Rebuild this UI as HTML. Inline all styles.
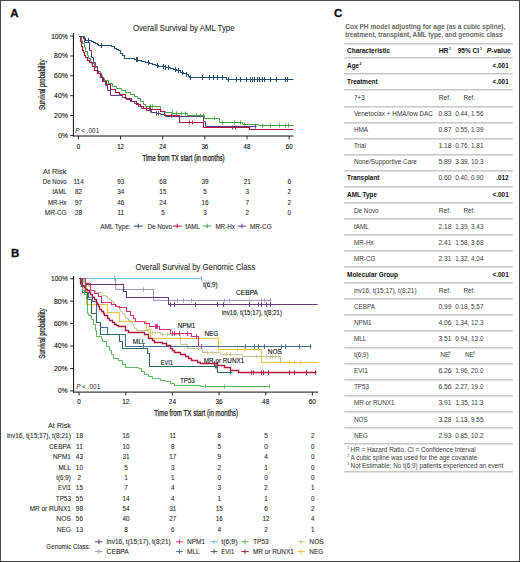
<!DOCTYPE html><html><head><meta charset="utf-8"><style>html,body{margin:0;padding:0;background:#fff;}svg{display:block;font-family:"Liberation Sans",sans-serif;}</style></head><body>
<svg width="520" height="562" viewBox="0 0 520 562">
<rect x="0" y="0" width="520" height="562" fill="#fff"/>
<text x="10.30" y="16.80" font-size="11.5" font-weight="bold" fill="#111" stroke="#111" stroke-width="0.3">A</text>
<text x="132.90" y="30.80" font-size="9.0" fill="#2a2a2a" textLength="101.60" lengthAdjust="spacingAndGlyphs" stroke="#2a2a2a" stroke-width="0.08">Overall Survival by AML Type</text>
<line x1="73.40" y1="33.00" x2="73.40" y2="136.50" stroke="#111" stroke-width="1"/>
<line x1="72.90" y1="136.00" x2="293.50" y2="136.00" stroke="#111" stroke-width="1"/>
<line x1="70.20" y1="36.10" x2="73.40" y2="36.10" stroke="#111" stroke-width="0.9"/>
<text x="51.20" y="38.50" font-size="6.6" textLength="16.70" lengthAdjust="spacingAndGlyphs" stroke="#222" stroke-width="0.08">100%</text>
<line x1="70.20" y1="55.96" x2="73.40" y2="55.96" stroke="#111" stroke-width="0.9"/>
<text x="54.10" y="58.36" font-size="6.6" textLength="13.80" lengthAdjust="spacingAndGlyphs" stroke="#222" stroke-width="0.08">80%</text>
<line x1="70.20" y1="75.82" x2="73.40" y2="75.82" stroke="#111" stroke-width="0.9"/>
<text x="54.10" y="78.22" font-size="6.6" textLength="13.80" lengthAdjust="spacingAndGlyphs" stroke="#222" stroke-width="0.08">60%</text>
<line x1="70.20" y1="95.68" x2="73.40" y2="95.68" stroke="#111" stroke-width="0.9"/>
<text x="54.10" y="98.08" font-size="6.6" textLength="13.80" lengthAdjust="spacingAndGlyphs" stroke="#222" stroke-width="0.08">40%</text>
<line x1="70.20" y1="115.54" x2="73.40" y2="115.54" stroke="#111" stroke-width="0.9"/>
<text x="54.10" y="117.94" font-size="6.6" textLength="13.80" lengthAdjust="spacingAndGlyphs" stroke="#222" stroke-width="0.08">20%</text>
<line x1="70.20" y1="135.40" x2="73.40" y2="135.40" stroke="#111" stroke-width="0.9"/>
<text x="58.30" y="137.80" font-size="6.6" textLength="9.60" lengthAdjust="spacingAndGlyphs" stroke="#222" stroke-width="0.08">0%</text>
<line x1="78.40" y1="136.00" x2="78.40" y2="139.40" stroke="#111" stroke-width="0.9"/>
<text x="76.70" y="148.70" font-size="6.8" textLength="3.40" lengthAdjust="spacingAndGlyphs" stroke="#222" stroke-width="0.08">0</text>
<line x1="120.56" y1="136.00" x2="120.56" y2="139.40" stroke="#111" stroke-width="0.9"/>
<text x="117.16" y="148.70" font-size="6.8" textLength="6.80" lengthAdjust="spacingAndGlyphs" stroke="#222" stroke-width="0.08">12</text>
<line x1="162.71" y1="136.00" x2="162.71" y2="139.40" stroke="#111" stroke-width="0.9"/>
<text x="159.31" y="148.70" font-size="6.8" textLength="6.80" lengthAdjust="spacingAndGlyphs" stroke="#222" stroke-width="0.08">24</text>
<line x1="204.87" y1="136.00" x2="204.87" y2="139.40" stroke="#111" stroke-width="0.9"/>
<text x="201.47" y="148.70" font-size="6.8" textLength="6.80" lengthAdjust="spacingAndGlyphs" stroke="#222" stroke-width="0.08">36</text>
<line x1="247.02" y1="136.00" x2="247.02" y2="139.40" stroke="#111" stroke-width="0.9"/>
<text x="243.62" y="148.70" font-size="6.8" textLength="6.80" lengthAdjust="spacingAndGlyphs" stroke="#222" stroke-width="0.08">48</text>
<line x1="289.18" y1="136.00" x2="289.18" y2="139.40" stroke="#111" stroke-width="0.9"/>
<text x="285.78" y="148.70" font-size="6.8" textLength="6.80" lengthAdjust="spacingAndGlyphs" stroke="#222" stroke-width="0.08">60</text>
<text x="142.40" y="160.50" font-size="9.0" fill="#1a1a1a" textLength="82.20" lengthAdjust="spacingAndGlyphs" stroke="#1a1a1a" stroke-width="0.25">Time from TX start (in months)</text>
<text transform="translate(44.7,84.8) rotate(-90)" text-anchor="middle" font-size="8.6" fill="#222" stroke="#222" stroke-width="0.25" textLength="50.5" lengthAdjust="spacingAndGlyphs">Survival probability</text>
<text x="75.2" y="133.2" font-size="6.6" fill="#222" textLength="24" lengthAdjust="spacingAndGlyphs"><tspan font-style="italic">P</tspan> &lt; .001</text>
<path d="M79.50,36.50H81.50V40.50H82.50V43.50H84.50V47.50H85.50V51.50H87.50V55.50H88.50V58.50H90.50V61.50H91.50V63.50H94.50V67.50H97.50V71.50H100.50V75.50H102.50V78.50H104.50V80.50H108.50V83.50H112.50V86.50H116.50V88.50H121.50V90.50H125.50V92.50H130.50V94.50H134.50V96.50H137.50V98.50H140.50V101.50H143.50V104.50H145.50V106.50H160.50V106.50H160.50V111.50H165.50V112.50H172.50V113.50H187.50V115.50H204.50V115.50H204.50V118.50H219.50V118.50H219.50V122.50H242.50V122.50H242.50V124.50H258.50V124.50H258.50V125.50H293.50V125.50" fill="none" stroke="#44a545" stroke-width="1.0"/>
<path d="M79.50,36.50H84.50V36.50H84.50V42.50H89.50V42.50H89.50V50.50H91.50V50.50H91.50V57.50H93.50V62.50H95.50V66.50H97.50V70.50H98.50V73.50H101.50V77.50H102.50V81.50H105.50V85.50H107.50V90.50H110.50V95.50H119.50V95.50H122.50V97.50H126.50V99.50H130.50V101.50H134.50V103.50H138.50V106.50H141.50V108.50H146.50V110.50H151.50V112.50H156.50V113.50H160.50V114.50H165.50V116.50H203.50V116.50H203.50V121.50H205.50V121.50H205.50V126.50H256.50V126.50" fill="none" stroke="#5a3a8a" stroke-width="1.0"/>
<path d="M79.50,36.50H80.50V41.50H81.50V46.50H82.50V50.50H83.50V52.50H84.50V55.50H85.50V57.50H87.50V60.50H89.50V62.50H92.50V66.50H94.50V70.50H97.50V73.50H100.50V77.50H103.50V81.50H106.50V84.50H110.50V89.50H115.50V92.50H119.50V94.50H125.50V98.50H131.50V101.50H136.50V104.50H140.50V106.50H143.50V108.50H150.50V109.50H160.50V111.50H164.50V115.50H179.50V117.50H179.50V122.50H203.50V122.50H203.50V127.50H249.50V127.50H249.50V129.50H293.50V129.50" fill="none" stroke="#b0163f" stroke-width="1.2"/>
<path d="M79.50,36.50H82.50V36.50H83.50V38.50H85.50V40.50H91.50V41.50H93.50V42.50H95.50V43.50H97.50V44.50H98.50V45.50H111.50V46.50H114.50V48.50H116.50V49.50H118.50V50.50H120.50V53.50H122.50V55.50H124.50V58.50H134.50V59.50H137.50V60.50H141.50V61.50H145.50V62.50H149.50V63.50H152.50V64.50H155.50V65.50H158.50V66.50H165.50V67.50H170.50V68.50H173.50V69.50H176.50V70.50H180.50V72.50H183.50V73.50H186.50V74.50H188.50V76.50H189.50V77.50H226.50V77.50H226.50V79.50H293.50V79.50" fill="none" stroke="#284d74" stroke-width="1.1"/>
<path d="M88.50,38.00V43.00M101.50,43.00V48.00M136.50,57.00V62.00M137.50,57.00V62.00M148.50,60.00V65.00M157.50,63.00V68.00M163.50,64.00V69.00M165.50,65.00V70.00M168.50,65.00V70.00M175.50,67.00V72.00M178.50,68.00V73.00M182.50,70.00V75.00M186.50,72.00V77.00M190.50,75.00V80.00M202.50,75.00V80.00M209.50,75.00V80.00M213.50,75.00V80.00M217.50,75.00V80.00M222.50,75.00V80.00M228.50,77.00V82.00M236.50,77.00V82.00M240.50,77.00V82.00M246.50,77.00V82.00M250.50,77.00V82.00M252.50,77.00V82.00M254.50,77.00V82.00M257.50,77.00V82.00M259.50,77.00V82.00M262.50,77.00V82.00M264.50,77.00V82.00M270.50,77.00V82.00M276.50,77.00V82.00M285.50,77.00V82.00M287.50,77.00V82.00" stroke="#284d74" stroke-width="1.1" fill="none"/>
<path d="M150.50,104.50V108.50M152.50,104.50V108.50M172.50,110.50V114.50M176.50,111.50V115.50M181.50,111.50V115.50M185.50,111.50V115.50M196.50,113.50V117.50M200.50,113.50V117.50M203.50,113.50V117.50M214.50,116.50V120.50M222.50,120.50V124.50M234.50,120.50V124.50M240.50,120.50V124.50M244.50,122.50V126.50M262.50,123.50V127.50M270.50,123.50V127.50M279.50,123.50V127.50M285.50,123.50V127.50M288.50,123.50V127.50" stroke="#44a545" stroke-width="0.9" fill="none"/>
<path d="M146.50,106.50V110.50M149.50,106.50V110.50M171.50,113.50V117.50M189.50,120.50V124.50M192.50,120.50V124.50M232.50,125.50V129.50M235.50,125.50V129.50" stroke="#b0163f" stroke-width="0.9" fill="none"/>
<path d="M150.50,108.30V112.70M156.50,111.30V115.70M158.50,111.30V115.70M255.50,124.30V128.70" stroke="#5a3a8a" stroke-width="0.9" fill="none"/>
<text x="43.10" y="173.80" font-size="7.4" fill="#2a2a2a" textLength="23.20" lengthAdjust="spacingAndGlyphs" stroke="#2a2a2a" stroke-width="0.08">At Risk</text>
<text x="42.80" y="183.90" font-size="6.4" fill="#2a2a2a" textLength="23.80" lengthAdjust="spacingAndGlyphs" stroke="#2a2a2a" stroke-width="0.08">De Novo</text>
<text x="78.60" y="183.90" font-size="6.4" text-anchor="middle" fill="#2a2a2a" stroke="#2a2a2a" stroke-width="0.08">114</text>
<text x="120.76" y="183.90" font-size="6.4" text-anchor="middle" fill="#2a2a2a" stroke="#2a2a2a" stroke-width="0.08">93</text>
<text x="162.91" y="183.90" font-size="6.4" text-anchor="middle" fill="#2a2a2a" stroke="#2a2a2a" stroke-width="0.08">68</text>
<text x="205.07" y="183.90" font-size="6.4" text-anchor="middle" fill="#2a2a2a" stroke="#2a2a2a" stroke-width="0.08">39</text>
<text x="247.22" y="183.90" font-size="6.4" text-anchor="middle" fill="#2a2a2a" stroke="#2a2a2a" stroke-width="0.08">21</text>
<text x="289.38" y="183.90" font-size="6.4" text-anchor="middle" fill="#2a2a2a" stroke="#2a2a2a" stroke-width="0.08">6</text>
<text x="52.40" y="194.25" font-size="6.4" fill="#2a2a2a" textLength="14.20" lengthAdjust="spacingAndGlyphs" stroke="#2a2a2a" stroke-width="0.08">tAML</text>
<text x="78.60" y="194.25" font-size="6.4" text-anchor="middle" fill="#2a2a2a" stroke="#2a2a2a" stroke-width="0.08">82</text>
<text x="120.76" y="194.25" font-size="6.4" text-anchor="middle" fill="#2a2a2a" stroke="#2a2a2a" stroke-width="0.08">34</text>
<text x="162.91" y="194.25" font-size="6.4" text-anchor="middle" fill="#2a2a2a" stroke="#2a2a2a" stroke-width="0.08">15</text>
<text x="205.07" y="194.25" font-size="6.4" text-anchor="middle" fill="#2a2a2a" stroke="#2a2a2a" stroke-width="0.08">5</text>
<text x="247.22" y="194.25" font-size="6.4" text-anchor="middle" fill="#2a2a2a" stroke="#2a2a2a" stroke-width="0.08">3</text>
<text x="289.38" y="194.25" font-size="6.4" text-anchor="middle" fill="#2a2a2a" stroke="#2a2a2a" stroke-width="0.08">2</text>
<text x="47.90" y="204.60" font-size="6.4" fill="#2a2a2a" textLength="18.70" lengthAdjust="spacingAndGlyphs" stroke="#2a2a2a" stroke-width="0.08">MR-Hx</text>
<text x="78.60" y="204.60" font-size="6.4" text-anchor="middle" fill="#2a2a2a" stroke="#2a2a2a" stroke-width="0.08">97</text>
<text x="120.76" y="204.60" font-size="6.4" text-anchor="middle" fill="#2a2a2a" stroke="#2a2a2a" stroke-width="0.08">46</text>
<text x="162.91" y="204.60" font-size="6.4" text-anchor="middle" fill="#2a2a2a" stroke="#2a2a2a" stroke-width="0.08">24</text>
<text x="205.07" y="204.60" font-size="6.4" text-anchor="middle" fill="#2a2a2a" stroke="#2a2a2a" stroke-width="0.08">16</text>
<text x="247.22" y="204.60" font-size="6.4" text-anchor="middle" fill="#2a2a2a" stroke="#2a2a2a" stroke-width="0.08">7</text>
<text x="289.38" y="204.60" font-size="6.4" text-anchor="middle" fill="#2a2a2a" stroke="#2a2a2a" stroke-width="0.08">2</text>
<text x="44.80" y="214.95" font-size="6.4" fill="#2a2a2a" textLength="21.80" lengthAdjust="spacingAndGlyphs" stroke="#2a2a2a" stroke-width="0.08">MR-CG</text>
<text x="78.60" y="214.95" font-size="6.4" text-anchor="middle" fill="#2a2a2a" stroke="#2a2a2a" stroke-width="0.08">28</text>
<text x="120.76" y="214.95" font-size="6.4" text-anchor="middle" fill="#2a2a2a" stroke="#2a2a2a" stroke-width="0.08">11</text>
<text x="162.91" y="214.95" font-size="6.4" text-anchor="middle" fill="#2a2a2a" stroke="#2a2a2a" stroke-width="0.08">5</text>
<text x="205.07" y="214.95" font-size="6.4" text-anchor="middle" fill="#2a2a2a" stroke="#2a2a2a" stroke-width="0.08">3</text>
<text x="247.22" y="214.95" font-size="6.4" text-anchor="middle" fill="#2a2a2a" stroke="#2a2a2a" stroke-width="0.08">2</text>
<text x="289.38" y="214.95" font-size="6.4" text-anchor="middle" fill="#2a2a2a" stroke="#2a2a2a" stroke-width="0.08">0</text>
<text x="100.20" y="228.70" font-size="6.4" fill="#2a2a2a" textLength="30.30" lengthAdjust="spacingAndGlyphs" stroke="#2a2a2a" stroke-width="0.08">AML Type:</text>
<path d="M133.90,226.10H142.60M138.25,223.80V228.40" stroke="#284d74" stroke-width="1" fill="none"/>
<text x="147.40" y="228.70" font-size="6.4" fill="#2a2a2a" textLength="24.60" lengthAdjust="spacingAndGlyphs" stroke="#2a2a2a" stroke-width="0.08">De Novo</text>
<path d="M172.90,226.10H181.50M177.20,223.80V228.40" stroke="#b0163f" stroke-width="1" fill="none"/>
<text x="185.50" y="228.70" font-size="6.4" fill="#2a2a2a" textLength="14.50" lengthAdjust="spacingAndGlyphs" stroke="#2a2a2a" stroke-width="0.08">tAML</text>
<path d="M203.00,226.10H211.40M207.20,223.80V228.40" stroke="#44a545" stroke-width="1" fill="none"/>
<text x="215.40" y="228.70" font-size="6.4" fill="#2a2a2a" textLength="19.40" lengthAdjust="spacingAndGlyphs" stroke="#2a2a2a" stroke-width="0.08">MR-Hx</text>
<path d="M237.80,226.10H246.00M241.90,223.80V228.40" stroke="#5a3a8a" stroke-width="1" fill="none"/>
<text x="250.00" y="228.70" font-size="6.4" fill="#2a2a2a" textLength="21.70" lengthAdjust="spacingAndGlyphs" stroke="#2a2a2a" stroke-width="0.08">MR-CG</text>
<text x="11.00" y="257.20" font-size="11.5" font-weight="bold" fill="#111" stroke="#111" stroke-width="0.3">B</text>
<text x="135.40" y="270.30" font-size="9.0" fill="#2a2a2a" textLength="120.00" lengthAdjust="spacingAndGlyphs" stroke="#2a2a2a" stroke-width="0.08">Overall Survival by Genomic Class</text>
<line x1="73.60" y1="276.00" x2="73.60" y2="392.60" stroke="#111" stroke-width="1"/>
<line x1="73.10" y1="392.10" x2="318.00" y2="392.10" stroke="#111" stroke-width="1"/>
<line x1="70.20" y1="278.80" x2="73.60" y2="278.80" stroke="#111" stroke-width="0.9"/>
<text x="51.00" y="281.20" font-size="6.6" textLength="16.70" lengthAdjust="spacingAndGlyphs" stroke="#222" stroke-width="0.08">100%</text>
<line x1="70.20" y1="301.22" x2="73.60" y2="301.22" stroke="#111" stroke-width="0.9"/>
<text x="53.90" y="303.62" font-size="6.6" textLength="13.80" lengthAdjust="spacingAndGlyphs" stroke="#222" stroke-width="0.08">80%</text>
<line x1="70.20" y1="323.64" x2="73.60" y2="323.64" stroke="#111" stroke-width="0.9"/>
<text x="53.90" y="326.04" font-size="6.6" textLength="13.80" lengthAdjust="spacingAndGlyphs" stroke="#222" stroke-width="0.08">60%</text>
<line x1="70.20" y1="346.06" x2="73.60" y2="346.06" stroke="#111" stroke-width="0.9"/>
<text x="53.90" y="348.46" font-size="6.6" textLength="13.80" lengthAdjust="spacingAndGlyphs" stroke="#222" stroke-width="0.08">40%</text>
<line x1="70.20" y1="368.48" x2="73.60" y2="368.48" stroke="#111" stroke-width="0.9"/>
<text x="53.90" y="370.88" font-size="6.6" textLength="13.80" lengthAdjust="spacingAndGlyphs" stroke="#222" stroke-width="0.08">20%</text>
<line x1="70.20" y1="390.90" x2="73.60" y2="390.90" stroke="#111" stroke-width="0.9"/>
<text x="58.10" y="393.30" font-size="6.6" textLength="9.60" lengthAdjust="spacingAndGlyphs" stroke="#222" stroke-width="0.08">0%</text>
<line x1="79.10" y1="392.10" x2="79.10" y2="395.40" stroke="#111" stroke-width="0.9"/>
<text x="77.35" y="404.20" font-size="6.8" textLength="3.50" lengthAdjust="spacingAndGlyphs" stroke="#222" stroke-width="0.08">0</text>
<line x1="125.76" y1="392.10" x2="125.76" y2="395.40" stroke="#111" stroke-width="0.9"/>
<text x="122.16" y="404.20" font-size="6.8" textLength="7.20" lengthAdjust="spacingAndGlyphs" stroke="#222" stroke-width="0.08">12</text>
<line x1="172.41" y1="392.10" x2="172.41" y2="395.40" stroke="#111" stroke-width="0.9"/>
<text x="168.81" y="404.20" font-size="6.8" textLength="7.20" lengthAdjust="spacingAndGlyphs" stroke="#222" stroke-width="0.08">24</text>
<line x1="219.07" y1="392.10" x2="219.07" y2="395.40" stroke="#111" stroke-width="0.9"/>
<text x="215.47" y="404.20" font-size="6.8" textLength="7.20" lengthAdjust="spacingAndGlyphs" stroke="#222" stroke-width="0.08">36</text>
<line x1="265.72" y1="392.10" x2="265.72" y2="395.40" stroke="#111" stroke-width="0.9"/>
<text x="262.12" y="404.20" font-size="6.8" textLength="7.20" lengthAdjust="spacingAndGlyphs" stroke="#222" stroke-width="0.08">48</text>
<line x1="312.38" y1="392.10" x2="312.38" y2="395.40" stroke="#111" stroke-width="0.9"/>
<text x="308.78" y="404.20" font-size="6.8" textLength="7.20" lengthAdjust="spacingAndGlyphs" stroke="#222" stroke-width="0.08">60</text>
<text x="154.30" y="415.60" font-size="9.0" fill="#1a1a1a" textLength="83.70" lengthAdjust="spacingAndGlyphs" stroke="#1a1a1a" stroke-width="0.25">Time from TX start (in months)</text>
<text transform="translate(44.8,333.6) rotate(-90)" text-anchor="middle" font-size="8.6" fill="#222" stroke="#222" stroke-width="0.25" textLength="50.5" lengthAdjust="spacingAndGlyphs">Survival probability</text>
<text x="76.2" y="389.0" font-size="6.6" fill="#222" textLength="24" lengthAdjust="spacingAndGlyphs"><tspan font-style="italic">P</tspan> &lt; .001</text>
<path d="M79.50,278.50H84.50V282.50H88.50V286.50H90.50V290.50H95.50V292.50H101.50V295.50H105.50V296.50H107.50V298.50H109.50V299.50H111.50V301.50H113.50V303.50H114.50V304.50H116.50V306.50H117.50V307.50H119.50V309.50H120.50V311.50H122.50V313.50H124.50V315.50H125.50V317.50H126.50V318.50H128.50V320.50H130.50V322.50H132.50V324.50H133.50V326.50H134.50V328.50H136.50V330.50H148.50V332.50H160.50V334.50H180.50V334.50H180.50V344.50H187.50V348.50H202.50V349.50H202.50V352.50H220.50V354.50H242.50V356.50H280.50V356.50H280.50V362.50H318.50V362.50" fill="none" stroke="#c3c98e" stroke-width="1.0"/>
<path d="M79.50,278.50H83.50V282.50H86.50V290.50H86.50V304.50H107.50V304.50H107.50V312.50H119.50V312.50H119.50V321.50H146.50V321.50H146.50V329.50H150.50V329.50H150.50V338.50H218.50V338.50H218.50V349.50H261.50V349.50H261.50V362.50H318.50V362.50" fill="none" stroke="#f2c23a" stroke-width="1.1"/>
<path d="M79.50,278.50H115.50V278.50H115.50V289.50H153.50V289.50H153.50V300.50H271.50V300.50" fill="none" stroke="#a497cc" stroke-width="1.0"/>
<path d="M79.50,278.50H85.50V278.50H85.50V284.50H123.50V284.50H123.50V291.50H126.50V291.50H126.50V297.50H168.50V297.50H168.50V304.50H317.50V304.50" fill="none" stroke="#6a3b7c" stroke-width="1.1"/>
<path d="M79.50,278.50H201.50V278.50" fill="none" stroke="#72bde2" stroke-width="1.1"/>
<path d="M79.50,278.50H85.50V278.50H85.50V283.50H90.50V285.50H90.50V290.50H94.50V290.50H94.50V293.50H98.50V293.50H98.50V296.50H101.50V296.50H101.50V302.50H111.50V302.50H111.50V304.50H115.50V304.50H115.50V306.50H119.50V306.50H119.50V307.50H126.50V307.50H126.50V311.50H130.50V311.50H130.50V315.50H133.50V315.50H133.50V318.50H135.50V318.50H135.50V321.50H144.50V321.50H144.50V323.50H149.50V323.50H149.50V326.50H159.50V326.50H159.50V329.50H170.50V329.50H170.50V333.50H191.50V333.50H191.50V336.50H198.50V336.50H198.50V346.50H203.50V346.50" fill="none" stroke="#d4317f" stroke-width="1.1"/>
<path d="M79.50,278.50H82.50V285.50H85.50V292.50H88.50V297.50H92.50V301.50H96.50V305.50H96.50V322.50H100.50V322.50H100.50V327.50H107.50V327.50H107.50V334.50H125.50V334.50H125.50V346.50H311.50V346.50" fill="none" stroke="#43709c" stroke-width="1.1"/>
<path d="M79.50,278.50H81.50V286.50H82.50V292.50H87.50V299.50H91.50V299.50H91.50V313.50H96.50V313.50H96.50V322.50H100.50V322.50H100.50V334.50H119.50V334.50H119.50V341.50H122.50V341.50H122.50V348.50H147.50V348.50H147.50V353.50H149.50V353.50H149.50V366.50H217.50V366.50H217.50V372.50H232.50V372.50" fill="none" stroke="#2f6b5f" stroke-width="1.1"/>
<path d="M79.50,278.50H80.50V284.50H82.50V290.50H84.50V294.50H86.50V295.50H86.50V299.50H87.50V313.50H88.50V315.50H91.50V319.50H93.50V324.50H95.50V330.50H96.50V336.50H101.50V338.50H102.50V341.50H106.50V346.50H109.50V350.50H111.50V354.50H113.50V358.50H118.50V360.50H122.50V364.50H125.50V367.50H138.50V368.50H141.50V371.50H144.50V374.50H148.50V376.50H152.50V378.50H154.50V378.50H160.50V380.50H165.50V381.50H170.50V383.50H174.50V385.50H200.50V385.50H200.50V386.50H269.50V386.50" fill="none" stroke="#5cb85a" stroke-width="1.0"/>
<path d="M79.50,278.50H80.50V283.50H82.50V286.50H84.50V287.50H85.50V289.50H87.50V290.50H89.50V292.50H90.50V294.50H92.50V297.50H94.50V299.50H96.50V302.50H97.50V304.50H98.50V306.50H99.50V309.50H101.50V311.50H103.50V313.50H104.50V315.50H107.50V318.50H109.50V320.50H112.50V322.50H114.50V324.50H116.50V325.50H118.50V326.50H122.50V326.50H125.50V330.50H128.50V332.50H141.50V332.50H144.50V334.50H148.50V338.50H152.50V340.50H154.50V342.50H162.50V343.50H166.50V345.50H170.50V348.50H172.50V350.50H174.50V352.50H180.50V354.50H185.50V356.50H188.50V358.50H191.50V360.50H197.50V362.50H200.50V363.50H217.50V363.50H217.50V365.50H224.50V367.50H230.50V370.50H238.50V372.50H316.50V372.50" fill="none" stroke="#b5173f" stroke-width="1.3"/>
<path d="M114.50,276.20V280.80M201.50,276.20V280.80" stroke="#72bde2" stroke-width="1.0" fill="none"/>
<path d="M143.50,287.30V291.70M177.50,298.30V302.70M183.50,298.30V302.70M191.50,298.30V302.70M224.50,298.30V302.70M229.50,298.30V302.70M249.50,298.30V302.70M261.50,298.30V302.70M264.50,298.30V302.70M270.50,298.30V302.70" stroke="#a497cc" stroke-width="0.9" fill="none"/>
<path d="M170.50,302.20V306.80M174.50,302.20V306.80M195.50,302.20V306.80M217.50,302.20V306.80M223.50,302.20V306.80M249.50,302.20V306.80M258.50,302.20V306.80M261.50,302.20V306.80M266.50,302.20V306.80M270.50,302.20V306.80" stroke="#6a3b7c" stroke-width="1.0" fill="none"/>
<path d="M155.50,324.20V328.80M156.50,324.20V328.80M157.50,324.20V328.80M172.50,331.20V335.80M174.50,331.20V335.80M179.50,331.20V335.80M187.50,331.20V335.80M196.50,334.20V338.80M201.50,344.20V348.80" stroke="#d4317f" stroke-width="1.0" fill="none"/>
<path d="M143.50,344.20V348.80M245.50,344.20V348.80M254.50,344.20V348.80M258.50,344.20V348.80M264.50,344.20V348.80M281.50,344.20V348.80M285.50,344.20V348.80M299.50,344.20V348.80M310.50,344.20V348.80" stroke="#43709c" stroke-width="1.0" fill="none"/>
<path d="M152.50,330.50V334.50M155.50,330.50V334.50M162.50,332.50V336.50M167.50,332.50V336.50M171.50,332.50V336.50M198.50,346.50V350.50M207.50,350.50V354.50M212.50,350.50V354.50M226.50,352.50V356.50M230.50,352.50V356.50M256.50,354.50V358.50M266.50,354.50V358.50M270.50,354.50V358.50M272.50,354.50V358.50M275.50,354.50V358.50M278.50,354.50V358.50" stroke="#c3c98e" stroke-width="0.9" fill="none"/>
<path d="M237.50,347.50V351.50M244.50,347.50V351.50M289.50,360.50V364.50M294.50,360.50V364.50M300.50,360.50V364.50" stroke="#f2c23a" stroke-width="0.9" fill="none"/>
<path d="M205.50,384.50V388.50M224.50,384.50V388.50M269.50,384.50V388.50" stroke="#5cb85a" stroke-width="0.9" fill="none"/>
<path d="M214.50,361.30V365.70M251.50,370.30V374.70M253.50,370.30V374.70M261.50,370.30V374.70M263.50,370.30V374.70M268.50,370.30V374.70M289.50,370.30V374.70M294.50,370.30V374.70M306.50,370.30V374.70M315.50,370.30V374.70" stroke="#b5173f" stroke-width="1.0" fill="none"/>
<path d="M215.50,364.50V368.50M216.50,364.50V368.50M230.50,370.50V374.50" stroke="#2f6b5f" stroke-width="0.9" fill="none"/>
<text x="203.00" y="286.60" font-size="6.4" textLength="14.70" lengthAdjust="spacingAndGlyphs" stroke="#222" stroke-width="0.08">t(6;9)</text>
<text x="236.00" y="295.20" font-size="6.4" textLength="22.00" lengthAdjust="spacingAndGlyphs" stroke="#222" stroke-width="0.08">CEBPA</text>
<text x="222.00" y="315.00" font-size="6.4" textLength="60.00" lengthAdjust="spacingAndGlyphs" stroke="#222" stroke-width="0.08">inv16, t(15;17), t(8;21)</text>
<text x="177.70" y="328.10" font-size="6.4" textLength="17.70" lengthAdjust="spacingAndGlyphs" stroke="#222" stroke-width="0.08">NPM1</text>
<text x="204.40" y="335.60" font-size="6.4" textLength="13.90" lengthAdjust="spacingAndGlyphs" stroke="#222" stroke-width="0.08">NEG</text>
<text x="132.80" y="343.80" font-size="6.4" textLength="12.70" lengthAdjust="spacingAndGlyphs" stroke="#222" stroke-width="0.08">MLL</text>
<text x="267.80" y="354.10" font-size="6.4" textLength="14.20" lengthAdjust="spacingAndGlyphs" stroke="#222" stroke-width="0.08">NOS</text>
<text x="160.80" y="365.00" font-size="6.4" textLength="12.20" lengthAdjust="spacingAndGlyphs" stroke="#222" stroke-width="0.08">EVI1</text>
<text x="203.80" y="363.10" font-size="6.4" textLength="40.40" lengthAdjust="spacingAndGlyphs" stroke="#222" stroke-width="0.08">MR or RUNX1</text>
<text x="180.00" y="382.90" font-size="6.4" textLength="14.80" lengthAdjust="spacingAndGlyphs" stroke="#222" stroke-width="0.08">TP53</text>
<text x="47.90" y="427.90" font-size="7.4" fill="#2a2a2a" textLength="23.00" lengthAdjust="spacingAndGlyphs" stroke="#2a2a2a" stroke-width="0.08">At Risk</text>
<text x="6.90" y="438.40" font-size="6.4" fill="#2a2a2a" textLength="64.00" lengthAdjust="spacingAndGlyphs" stroke="#2a2a2a" stroke-width="0.08">inv16, t(15;17), t(8;21)</text>
<text x="79.40" y="438.40" font-size="6.4" text-anchor="middle" fill="#2a2a2a" stroke="#2a2a2a" stroke-width="0.08">18</text>
<text x="126.06" y="438.40" font-size="6.4" text-anchor="middle" fill="#2a2a2a" stroke="#2a2a2a" stroke-width="0.08">16</text>
<text x="172.71" y="438.40" font-size="6.4" text-anchor="middle" fill="#2a2a2a" stroke="#2a2a2a" stroke-width="0.08">11</text>
<text x="219.37" y="438.40" font-size="6.4" text-anchor="middle" fill="#2a2a2a" stroke="#2a2a2a" stroke-width="0.08">8</text>
<text x="266.02" y="438.40" font-size="6.4" text-anchor="middle" fill="#2a2a2a" stroke="#2a2a2a" stroke-width="0.08">5</text>
<text x="312.68" y="438.40" font-size="6.4" text-anchor="middle" fill="#2a2a2a" stroke="#2a2a2a" stroke-width="0.08">2</text>
<text x="49.00" y="448.78" font-size="6.4" fill="#2a2a2a" textLength="21.90" lengthAdjust="spacingAndGlyphs" stroke="#2a2a2a" stroke-width="0.08">CEBPA</text>
<text x="79.40" y="448.78" font-size="6.4" text-anchor="middle" fill="#2a2a2a" stroke="#2a2a2a" stroke-width="0.08">11</text>
<text x="126.06" y="448.78" font-size="6.4" text-anchor="middle" fill="#2a2a2a" stroke="#2a2a2a" stroke-width="0.08">10</text>
<text x="172.71" y="448.78" font-size="6.4" text-anchor="middle" fill="#2a2a2a" stroke="#2a2a2a" stroke-width="0.08">8</text>
<text x="219.37" y="448.78" font-size="6.4" text-anchor="middle" fill="#2a2a2a" stroke="#2a2a2a" stroke-width="0.08">5</text>
<text x="266.02" y="448.78" font-size="6.4" text-anchor="middle" fill="#2a2a2a" stroke="#2a2a2a" stroke-width="0.08">0</text>
<text x="312.68" y="448.78" font-size="6.4" text-anchor="middle" fill="#2a2a2a" stroke="#2a2a2a" stroke-width="0.08">0</text>
<text x="52.90" y="459.16" font-size="6.4" fill="#2a2a2a" textLength="18.00" lengthAdjust="spacingAndGlyphs" stroke="#2a2a2a" stroke-width="0.08">NPM1</text>
<text x="79.40" y="459.16" font-size="6.4" text-anchor="middle" fill="#2a2a2a" stroke="#2a2a2a" stroke-width="0.08">43</text>
<text x="126.06" y="459.16" font-size="6.4" text-anchor="middle" fill="#2a2a2a" stroke="#2a2a2a" stroke-width="0.08">31</text>
<text x="172.71" y="459.16" font-size="6.4" text-anchor="middle" fill="#2a2a2a" stroke="#2a2a2a" stroke-width="0.08">17</text>
<text x="219.37" y="459.16" font-size="6.4" text-anchor="middle" fill="#2a2a2a" stroke="#2a2a2a" stroke-width="0.08">9</text>
<text x="266.02" y="459.16" font-size="6.4" text-anchor="middle" fill="#2a2a2a" stroke="#2a2a2a" stroke-width="0.08">4</text>
<text x="312.68" y="459.16" font-size="6.4" text-anchor="middle" fill="#2a2a2a" stroke="#2a2a2a" stroke-width="0.08">0</text>
<text x="58.50" y="469.54" font-size="6.4" fill="#2a2a2a" textLength="12.40" lengthAdjust="spacingAndGlyphs" stroke="#2a2a2a" stroke-width="0.08">MLL</text>
<text x="79.40" y="469.54" font-size="6.4" text-anchor="middle" fill="#2a2a2a" stroke="#2a2a2a" stroke-width="0.08">10</text>
<text x="126.06" y="469.54" font-size="6.4" text-anchor="middle" fill="#2a2a2a" stroke="#2a2a2a" stroke-width="0.08">5</text>
<text x="172.71" y="469.54" font-size="6.4" text-anchor="middle" fill="#2a2a2a" stroke="#2a2a2a" stroke-width="0.08">3</text>
<text x="219.37" y="469.54" font-size="6.4" text-anchor="middle" fill="#2a2a2a" stroke="#2a2a2a" stroke-width="0.08">2</text>
<text x="266.02" y="469.54" font-size="6.4" text-anchor="middle" fill="#2a2a2a" stroke="#2a2a2a" stroke-width="0.08">1</text>
<text x="312.68" y="469.54" font-size="6.4" text-anchor="middle" fill="#2a2a2a" stroke="#2a2a2a" stroke-width="0.08">0</text>
<text x="56.30" y="479.92" font-size="6.4" fill="#2a2a2a" textLength="14.60" lengthAdjust="spacingAndGlyphs" stroke="#2a2a2a" stroke-width="0.08">t(6;9)</text>
<text x="79.40" y="479.92" font-size="6.4" text-anchor="middle" fill="#2a2a2a" stroke="#2a2a2a" stroke-width="0.08">2</text>
<text x="126.06" y="479.92" font-size="6.4" text-anchor="middle" fill="#2a2a2a" stroke="#2a2a2a" stroke-width="0.08">1</text>
<text x="172.71" y="479.92" font-size="6.4" text-anchor="middle" fill="#2a2a2a" stroke="#2a2a2a" stroke-width="0.08">1</text>
<text x="219.37" y="479.92" font-size="6.4" text-anchor="middle" fill="#2a2a2a" stroke="#2a2a2a" stroke-width="0.08">0</text>
<text x="266.02" y="479.92" font-size="6.4" text-anchor="middle" fill="#2a2a2a" stroke="#2a2a2a" stroke-width="0.08">0</text>
<text x="312.68" y="479.92" font-size="6.4" text-anchor="middle" fill="#2a2a2a" stroke="#2a2a2a" stroke-width="0.08">0</text>
<text x="58.00" y="490.30" font-size="6.4" fill="#2a2a2a" textLength="12.90" lengthAdjust="spacingAndGlyphs" stroke="#2a2a2a" stroke-width="0.08">EVI1</text>
<text x="79.40" y="490.30" font-size="6.4" text-anchor="middle" fill="#2a2a2a" stroke="#2a2a2a" stroke-width="0.08">15</text>
<text x="126.06" y="490.30" font-size="6.4" text-anchor="middle" fill="#2a2a2a" stroke="#2a2a2a" stroke-width="0.08">7</text>
<text x="172.71" y="490.30" font-size="6.4" text-anchor="middle" fill="#2a2a2a" stroke="#2a2a2a" stroke-width="0.08">4</text>
<text x="219.37" y="490.30" font-size="6.4" text-anchor="middle" fill="#2a2a2a" stroke="#2a2a2a" stroke-width="0.08">3</text>
<text x="266.02" y="490.30" font-size="6.4" text-anchor="middle" fill="#2a2a2a" stroke="#2a2a2a" stroke-width="0.08">2</text>
<text x="312.68" y="490.30" font-size="6.4" text-anchor="middle" fill="#2a2a2a" stroke="#2a2a2a" stroke-width="0.08">1</text>
<text x="55.80" y="500.68" font-size="6.4" fill="#2a2a2a" textLength="15.10" lengthAdjust="spacingAndGlyphs" stroke="#2a2a2a" stroke-width="0.08">TP53</text>
<text x="79.40" y="500.68" font-size="6.4" text-anchor="middle" fill="#2a2a2a" stroke="#2a2a2a" stroke-width="0.08">55</text>
<text x="126.06" y="500.68" font-size="6.4" text-anchor="middle" fill="#2a2a2a" stroke="#2a2a2a" stroke-width="0.08">14</text>
<text x="172.71" y="500.68" font-size="6.4" text-anchor="middle" fill="#2a2a2a" stroke="#2a2a2a" stroke-width="0.08">4</text>
<text x="219.37" y="500.68" font-size="6.4" text-anchor="middle" fill="#2a2a2a" stroke="#2a2a2a" stroke-width="0.08">1</text>
<text x="266.02" y="500.68" font-size="6.4" text-anchor="middle" fill="#2a2a2a" stroke="#2a2a2a" stroke-width="0.08">1</text>
<text x="312.68" y="500.68" font-size="6.4" text-anchor="middle" fill="#2a2a2a" stroke="#2a2a2a" stroke-width="0.08">0</text>
<text x="29.70" y="511.06" font-size="6.4" fill="#2a2a2a" textLength="41.20" lengthAdjust="spacingAndGlyphs" stroke="#2a2a2a" stroke-width="0.08">MR or RUNX1</text>
<text x="79.40" y="511.06" font-size="6.4" text-anchor="middle" fill="#2a2a2a" stroke="#2a2a2a" stroke-width="0.08">98</text>
<text x="126.06" y="511.06" font-size="6.4" text-anchor="middle" fill="#2a2a2a" stroke="#2a2a2a" stroke-width="0.08">54</text>
<text x="172.71" y="511.06" font-size="6.4" text-anchor="middle" fill="#2a2a2a" stroke="#2a2a2a" stroke-width="0.08">31</text>
<text x="219.37" y="511.06" font-size="6.4" text-anchor="middle" fill="#2a2a2a" stroke="#2a2a2a" stroke-width="0.08">15</text>
<text x="266.02" y="511.06" font-size="6.4" text-anchor="middle" fill="#2a2a2a" stroke="#2a2a2a" stroke-width="0.08">6</text>
<text x="312.68" y="511.06" font-size="6.4" text-anchor="middle" fill="#2a2a2a" stroke="#2a2a2a" stroke-width="0.08">2</text>
<text x="56.30" y="521.44" font-size="6.4" fill="#2a2a2a" textLength="14.60" lengthAdjust="spacingAndGlyphs" stroke="#2a2a2a" stroke-width="0.08">NOS</text>
<text x="79.40" y="521.44" font-size="6.4" text-anchor="middle" fill="#2a2a2a" stroke="#2a2a2a" stroke-width="0.08">56</text>
<text x="126.06" y="521.44" font-size="6.4" text-anchor="middle" fill="#2a2a2a" stroke="#2a2a2a" stroke-width="0.08">40</text>
<text x="172.71" y="521.44" font-size="6.4" text-anchor="middle" fill="#2a2a2a" stroke="#2a2a2a" stroke-width="0.08">27</text>
<text x="219.37" y="521.44" font-size="6.4" text-anchor="middle" fill="#2a2a2a" stroke="#2a2a2a" stroke-width="0.08">16</text>
<text x="266.02" y="521.44" font-size="6.4" text-anchor="middle" fill="#2a2a2a" stroke="#2a2a2a" stroke-width="0.08">12</text>
<text x="312.68" y="521.44" font-size="6.4" text-anchor="middle" fill="#2a2a2a" stroke="#2a2a2a" stroke-width="0.08">4</text>
<text x="56.80" y="531.82" font-size="6.4" fill="#2a2a2a" textLength="14.10" lengthAdjust="spacingAndGlyphs" stroke="#2a2a2a" stroke-width="0.08">NEG</text>
<text x="79.40" y="531.82" font-size="6.4" text-anchor="middle" fill="#2a2a2a" stroke="#2a2a2a" stroke-width="0.08">13</text>
<text x="126.06" y="531.82" font-size="6.4" text-anchor="middle" fill="#2a2a2a" stroke="#2a2a2a" stroke-width="0.08">8</text>
<text x="172.71" y="531.82" font-size="6.4" text-anchor="middle" fill="#2a2a2a" stroke="#2a2a2a" stroke-width="0.08">6</text>
<text x="219.37" y="531.82" font-size="6.4" text-anchor="middle" fill="#2a2a2a" stroke="#2a2a2a" stroke-width="0.08">4</text>
<text x="266.02" y="531.82" font-size="6.4" text-anchor="middle" fill="#2a2a2a" stroke="#2a2a2a" stroke-width="0.08">2</text>
<text x="312.68" y="531.82" font-size="6.4" text-anchor="middle" fill="#2a2a2a" stroke="#2a2a2a" stroke-width="0.08">1</text>
<text x="46.30" y="549.40" font-size="6.4" fill="#2a2a2a" textLength="44.20" lengthAdjust="spacingAndGlyphs" stroke="#2a2a2a" stroke-width="0.08">Genomic Class:</text>
<path d="M95.00,541.80H102.70M98.85,539.50V544.10" stroke="#6a3b7c" stroke-width="1" fill="none"/>
<text x="106.60" y="544.20" font-size="6.4" fill="#2a2a2a" textLength="64.20" lengthAdjust="spacingAndGlyphs" stroke="#2a2a2a" stroke-width="0.08">inv16, t(15;17), t(8;21)</text>
<path d="M95.00,551.60H102.70M98.85,549.30V553.90" stroke="#a497cc" stroke-width="1" fill="none"/>
<text x="106.60" y="554.00" font-size="6.4" fill="#2a2a2a" textLength="22.20" lengthAdjust="spacingAndGlyphs" stroke="#2a2a2a" stroke-width="0.08">CEBPA</text>
<path d="M176.00,541.80H182.80M179.40,539.50V544.10" stroke="#d4317f" stroke-width="1" fill="none"/>
<text x="187.00" y="544.20" font-size="6.4" fill="#2a2a2a" textLength="18.00" lengthAdjust="spacingAndGlyphs" stroke="#2a2a2a" stroke-width="0.08">NPM1</text>
<path d="M176.00,551.60H182.80M179.40,549.30V553.90" stroke="#43709c" stroke-width="1" fill="none"/>
<text x="187.00" y="554.00" font-size="6.4" fill="#2a2a2a" textLength="12.70" lengthAdjust="spacingAndGlyphs" stroke="#2a2a2a" stroke-width="0.08">MLL</text>
<path d="M210.50,541.80H217.50M214.00,539.50V544.10" stroke="#72bde2" stroke-width="1" fill="none"/>
<text x="221.30" y="544.20" font-size="6.4" fill="#2a2a2a" textLength="16.20" lengthAdjust="spacingAndGlyphs" stroke="#2a2a2a" stroke-width="0.08">t(6;9)</text>
<path d="M210.50,551.60H217.50M214.00,549.30V553.90" stroke="#2f6b5f" stroke-width="1" fill="none"/>
<text x="221.30" y="554.00" font-size="6.4" fill="#2a2a2a" textLength="13.00" lengthAdjust="spacingAndGlyphs" stroke="#2a2a2a" stroke-width="0.08">EVI1</text>
<path d="M241.30,541.80H248.80M245.05,539.50V544.10" stroke="#5cb85a" stroke-width="1" fill="none"/>
<text x="253.00" y="544.20" font-size="6.4" fill="#2a2a2a" textLength="15.80" lengthAdjust="spacingAndGlyphs" stroke="#2a2a2a" stroke-width="0.08">TP53</text>
<path d="M241.30,551.60H248.80M245.05,549.30V553.90" stroke="#b5173f" stroke-width="1" fill="none"/>
<text x="253.00" y="554.00" font-size="6.4" fill="#2a2a2a" textLength="40.80" lengthAdjust="spacingAndGlyphs" stroke="#2a2a2a" stroke-width="0.08">MR or RUNX1</text>
<path d="M297.50,541.80H304.50M301.00,539.50V544.10" stroke="#c3c98e" stroke-width="1" fill="none"/>
<text x="309.30" y="544.20" font-size="6.4" fill="#2a2a2a" textLength="14.50" lengthAdjust="spacingAndGlyphs" stroke="#2a2a2a" stroke-width="0.08">NOS</text>
<path d="M297.50,551.60H304.50M301.00,549.30V553.90" stroke="#f2c23a" stroke-width="1" fill="none"/>
<text x="309.30" y="554.00" font-size="6.4" fill="#2a2a2a" textLength="14.00" lengthAdjust="spacingAndGlyphs" stroke="#2a2a2a" stroke-width="0.08">NEG</text>
<text x="334.00" y="16.90" font-size="11.5" font-weight="bold" fill="#111" stroke="#111" stroke-width="0.3">C</text>
<text x="345.20" y="28.70" font-size="6.5" font-weight="bold" fill="#666666" textLength="160.20" lengthAdjust="spacingAndGlyphs">Cox PH model adjusting for age (as a cubic spline),</text>
<text x="345.20" y="36.50" font-size="6.5" font-weight="bold" fill="#666666" textLength="157.40" lengthAdjust="spacingAndGlyphs">treatment, transplant, AML type, and genomic class</text>
<line x1="344.30" y1="43.50" x2="512.80" y2="43.50" stroke="#c8c8c8" stroke-width="1.0"/>
<line x1="344.30" y1="44.50" x2="512.80" y2="44.50" stroke="#e2e2e2" stroke-width="1.0"/>
<line x1="344.30" y1="57.50" x2="512.80" y2="57.50" stroke="#c8c8c8" stroke-width="1.0"/>
<line x1="344.30" y1="58.50" x2="512.80" y2="58.50" stroke="#e2e2e2" stroke-width="1.0"/>
<line x1="344.30" y1="73.50" x2="512.80" y2="73.50" stroke="#c8c8c8" stroke-width="1.0"/>
<line x1="344.30" y1="74.50" x2="512.80" y2="74.50" stroke="#e2e2e2" stroke-width="1.0"/>
<line x1="344.30" y1="89.50" x2="512.80" y2="89.50" stroke="#c8c8c8" stroke-width="1.0"/>
<line x1="344.30" y1="90.50" x2="512.80" y2="90.50" stroke="#e2e2e2" stroke-width="1.0"/>
<line x1="344.30" y1="106.50" x2="512.80" y2="106.50" stroke="#c8c8c8" stroke-width="1.0"/>
<line x1="344.30" y1="107.50" x2="512.80" y2="107.50" stroke="#e2e2e2" stroke-width="1.0"/>
<line x1="344.30" y1="122.50" x2="512.80" y2="122.50" stroke="#c8c8c8" stroke-width="1.0"/>
<line x1="344.30" y1="123.50" x2="512.80" y2="123.50" stroke="#e2e2e2" stroke-width="1.0"/>
<line x1="344.30" y1="138.50" x2="512.80" y2="138.50" stroke="#c8c8c8" stroke-width="1.0"/>
<line x1="344.30" y1="139.50" x2="512.80" y2="139.50" stroke="#e2e2e2" stroke-width="1.0"/>
<line x1="344.30" y1="154.50" x2="512.80" y2="154.50" stroke="#c8c8c8" stroke-width="1.0"/>
<line x1="344.30" y1="155.50" x2="512.80" y2="155.50" stroke="#e2e2e2" stroke-width="1.0"/>
<line x1="344.30" y1="170.50" x2="512.80" y2="170.50" stroke="#c8c8c8" stroke-width="1.0"/>
<line x1="344.30" y1="171.50" x2="512.80" y2="171.50" stroke="#e2e2e2" stroke-width="1.0"/>
<line x1="344.30" y1="186.50" x2="512.80" y2="186.50" stroke="#c8c8c8" stroke-width="1.0"/>
<line x1="344.30" y1="187.50" x2="512.80" y2="187.50" stroke="#e2e2e2" stroke-width="1.0"/>
<line x1="344.30" y1="202.50" x2="512.80" y2="202.50" stroke="#c8c8c8" stroke-width="1.0"/>
<line x1="344.30" y1="203.50" x2="512.80" y2="203.50" stroke="#e2e2e2" stroke-width="1.0"/>
<line x1="344.30" y1="218.50" x2="512.80" y2="218.50" stroke="#c8c8c8" stroke-width="1.0"/>
<line x1="344.30" y1="219.50" x2="512.80" y2="219.50" stroke="#e2e2e2" stroke-width="1.0"/>
<line x1="344.30" y1="234.50" x2="512.80" y2="234.50" stroke="#c8c8c8" stroke-width="1.0"/>
<line x1="344.30" y1="235.50" x2="512.80" y2="235.50" stroke="#e2e2e2" stroke-width="1.0"/>
<line x1="344.30" y1="250.50" x2="512.80" y2="250.50" stroke="#c8c8c8" stroke-width="1.0"/>
<line x1="344.30" y1="251.50" x2="512.80" y2="251.50" stroke="#e2e2e2" stroke-width="1.0"/>
<line x1="344.30" y1="266.50" x2="512.80" y2="266.50" stroke="#c8c8c8" stroke-width="1.0"/>
<line x1="344.30" y1="267.50" x2="512.80" y2="267.50" stroke="#e2e2e2" stroke-width="1.0"/>
<line x1="344.30" y1="282.50" x2="512.80" y2="282.50" stroke="#c8c8c8" stroke-width="1.0"/>
<line x1="344.30" y1="283.50" x2="512.80" y2="283.50" stroke="#e2e2e2" stroke-width="1.0"/>
<line x1="344.30" y1="298.50" x2="512.80" y2="298.50" stroke="#c8c8c8" stroke-width="1.0"/>
<line x1="344.30" y1="299.50" x2="512.80" y2="299.50" stroke="#e2e2e2" stroke-width="1.0"/>
<line x1="344.30" y1="314.50" x2="512.80" y2="314.50" stroke="#c8c8c8" stroke-width="1.0"/>
<line x1="344.30" y1="315.50" x2="512.80" y2="315.50" stroke="#e2e2e2" stroke-width="1.0"/>
<line x1="344.30" y1="330.50" x2="512.80" y2="330.50" stroke="#c8c8c8" stroke-width="1.0"/>
<line x1="344.30" y1="331.50" x2="512.80" y2="331.50" stroke="#e2e2e2" stroke-width="1.0"/>
<line x1="344.30" y1="347.50" x2="512.80" y2="347.50" stroke="#c8c8c8" stroke-width="1.0"/>
<line x1="344.30" y1="348.50" x2="512.80" y2="348.50" stroke="#e2e2e2" stroke-width="1.0"/>
<line x1="344.30" y1="363.50" x2="512.80" y2="363.50" stroke="#c8c8c8" stroke-width="1.0"/>
<line x1="344.30" y1="364.50" x2="512.80" y2="364.50" stroke="#e2e2e2" stroke-width="1.0"/>
<line x1="344.30" y1="379.50" x2="512.80" y2="379.50" stroke="#c8c8c8" stroke-width="1.0"/>
<line x1="344.30" y1="380.50" x2="512.80" y2="380.50" stroke="#e2e2e2" stroke-width="1.0"/>
<line x1="344.30" y1="395.50" x2="512.80" y2="395.50" stroke="#c8c8c8" stroke-width="1.0"/>
<line x1="344.30" y1="396.50" x2="512.80" y2="396.50" stroke="#e2e2e2" stroke-width="1.0"/>
<line x1="344.30" y1="411.50" x2="512.80" y2="411.50" stroke="#c8c8c8" stroke-width="1.0"/>
<line x1="344.30" y1="412.50" x2="512.80" y2="412.50" stroke="#e2e2e2" stroke-width="1.0"/>
<line x1="344.30" y1="427.50" x2="512.80" y2="427.50" stroke="#c8c8c8" stroke-width="1.0"/>
<line x1="344.30" y1="428.50" x2="512.80" y2="428.50" stroke="#e2e2e2" stroke-width="1.0"/>
<line x1="344.30" y1="443.50" x2="512.80" y2="443.50" stroke="#c8c8c8" stroke-width="1.0"/>
<line x1="344.30" y1="444.50" x2="512.80" y2="444.50" stroke="#e2e2e2" stroke-width="1.0"/>
<line x1="344.30" y1="471.50" x2="512.80" y2="471.50" stroke="#c8c8c8" stroke-width="1.0"/>
<line x1="344.30" y1="472.50" x2="512.80" y2="472.50" stroke="#e2e2e2" stroke-width="1.0"/>
<text x="347.00" y="52.90" font-size="6.5" font-weight="bold" fill="#111" textLength="43.20" lengthAdjust="spacingAndGlyphs">Characteristic</text>
<text x="438.70" y="52.90" font-size="6.5" font-weight="bold" fill="#111" textLength="9.80" lengthAdjust="spacingAndGlyphs">HR</text>
<text x="449.10" y="50.30" font-size="3.6" font-weight="bold" fill="#111">1</text>
<text x="457.70" y="52.90" font-size="6.5" font-weight="bold" fill="#111" textLength="21.30" lengthAdjust="spacingAndGlyphs">95% CI</text>
<text x="479.90" y="50.30" font-size="3.6" font-weight="bold" fill="#111">1</text>
<text x="486.8" y="52.90" font-size="6.5" font-weight="bold" fill="#111" textLength="24.1" lengthAdjust="spacingAndGlyphs"><tspan font-style="italic">P</tspan>-value</text>
<text x="347.10" y="68.00" font-size="6.4" font-weight="bold" fill="#111">Age</text>
<text x="359.60" y="65.00" font-size="3.6" font-weight="bold" fill="#111">2</text>
<text x="508.70" y="68.00" font-size="6.4" text-anchor="end" font-weight="bold" fill="#111">&lt;.001</text>
<text x="347.10" y="84.07" font-size="6.4" font-weight="bold" fill="#111">Treatment</text>
<text x="508.70" y="84.07" font-size="6.4" text-anchor="end" font-weight="bold" fill="#111">&lt;.001</text>
<text x="353.90" y="100.14" font-size="6.7" fill="#3a3a3a" textLength="10.80" lengthAdjust="spacingAndGlyphs">7+3</text>
<text x="438.76" y="100.14" font-size="6.7" fill="#3a3a3a" textLength="12.29" lengthAdjust="spacingAndGlyphs">Ref.</text>
<text x="463.46" y="100.14" font-size="6.7" fill="#3a3a3a" textLength="11.67" lengthAdjust="spacingAndGlyphs">Ref.</text>
<text x="353.90" y="116.21" font-size="6.7" fill="#3a3a3a" textLength="79.06" lengthAdjust="spacingAndGlyphs">Venetoclax + HMA/low DAC</text>
<text x="438.38" y="116.21" font-size="6.7" fill="#3a3a3a" textLength="13.04" lengthAdjust="spacingAndGlyphs">0.83</text>
<text x="455.14" y="116.21" font-size="6.7" fill="#3a3a3a" textLength="28.31" lengthAdjust="spacingAndGlyphs">0.44, 1.56</text>
<text x="353.90" y="132.28" font-size="6.7" fill="#3a3a3a" textLength="14.14" lengthAdjust="spacingAndGlyphs">HMA</text>
<text x="438.38" y="132.28" font-size="6.7" fill="#3a3a3a" textLength="13.04" lengthAdjust="spacingAndGlyphs">0.87</text>
<text x="455.14" y="132.28" font-size="6.7" fill="#3a3a3a" textLength="28.31" lengthAdjust="spacingAndGlyphs">0.55, 1.39</text>
<text x="353.90" y="148.35" font-size="6.7" fill="#3a3a3a" textLength="12.14" lengthAdjust="spacingAndGlyphs">Trial</text>
<text x="438.38" y="148.35" font-size="6.7" fill="#3a3a3a" textLength="13.04" lengthAdjust="spacingAndGlyphs">1.18</text>
<text x="455.14" y="148.35" font-size="6.7" fill="#3a3a3a" textLength="28.31" lengthAdjust="spacingAndGlyphs">0.76, 1.81</text>
<text x="353.90" y="164.42" font-size="6.7" fill="#3a3a3a" textLength="62.97" lengthAdjust="spacingAndGlyphs">None/Supportive Care</text>
<text x="438.38" y="164.42" font-size="6.7" fill="#3a3a3a" textLength="13.04" lengthAdjust="spacingAndGlyphs">5.89</text>
<text x="455.14" y="164.42" font-size="6.7" fill="#3a3a3a" textLength="28.31" lengthAdjust="spacingAndGlyphs">3.39, 10.3</text>
<text x="347.10" y="180.49" font-size="6.4" font-weight="bold" fill="#111">Transplant</text>
<text x="438.38" y="180.49" font-size="6.7" fill="#3a3a3a" textLength="13.04" lengthAdjust="spacingAndGlyphs">0.60</text>
<text x="455.14" y="180.49" font-size="6.7" fill="#3a3a3a" textLength="28.31" lengthAdjust="spacingAndGlyphs">0.40, 0.90</text>
<text x="508.70" y="180.49" font-size="6.4" text-anchor="end" font-weight="bold" fill="#111">.012</text>
<text x="347.10" y="196.56" font-size="6.4" font-weight="bold" fill="#111">AML Type</text>
<text x="508.70" y="196.56" font-size="6.4" text-anchor="end" font-weight="bold" fill="#111">&lt;.001</text>
<text x="353.90" y="212.63" font-size="6.7" fill="#3a3a3a" textLength="24.76" lengthAdjust="spacingAndGlyphs">De Novo</text>
<text x="438.76" y="212.63" font-size="6.7" fill="#3a3a3a" textLength="12.29" lengthAdjust="spacingAndGlyphs">Ref.</text>
<text x="463.46" y="212.63" font-size="6.7" fill="#3a3a3a" textLength="11.67" lengthAdjust="spacingAndGlyphs">Ref.</text>
<text x="353.90" y="228.70" font-size="6.7" fill="#3a3a3a" textLength="14.86" lengthAdjust="spacingAndGlyphs">tAML</text>
<text x="438.38" y="228.70" font-size="6.7" fill="#3a3a3a" textLength="13.04" lengthAdjust="spacingAndGlyphs">2.18</text>
<text x="455.14" y="228.70" font-size="6.7" fill="#3a3a3a" textLength="28.31" lengthAdjust="spacingAndGlyphs">1.39, 3.43</text>
<text x="353.90" y="244.77" font-size="6.7" fill="#3a3a3a" textLength="19.80" lengthAdjust="spacingAndGlyphs">MR-Hx</text>
<text x="438.38" y="244.77" font-size="6.7" fill="#3a3a3a" textLength="13.04" lengthAdjust="spacingAndGlyphs">2.41</text>
<text x="455.14" y="244.77" font-size="6.7" fill="#3a3a3a" textLength="28.31" lengthAdjust="spacingAndGlyphs">1.58, 3.68</text>
<text x="353.90" y="260.84" font-size="6.7" fill="#3a3a3a" textLength="21.57" lengthAdjust="spacingAndGlyphs">MR-CG</text>
<text x="438.38" y="260.84" font-size="6.7" fill="#3a3a3a" textLength="13.04" lengthAdjust="spacingAndGlyphs">2.31</text>
<text x="455.14" y="260.84" font-size="6.7" fill="#3a3a3a" textLength="28.31" lengthAdjust="spacingAndGlyphs">1.32, 4.04</text>
<text x="347.10" y="276.91" font-size="6.4" font-weight="bold" fill="#111">Molecular Group</text>
<text x="508.70" y="276.91" font-size="6.4" text-anchor="end" font-weight="bold" fill="#111">&lt;.001</text>
<text x="353.90" y="292.98" font-size="6.7" fill="#3a3a3a" textLength="62.62" lengthAdjust="spacingAndGlyphs">inv16, t(15;17), t(8;21)</text>
<text x="438.76" y="292.98" font-size="6.7" fill="#3a3a3a" textLength="12.29" lengthAdjust="spacingAndGlyphs">Ref.</text>
<text x="463.46" y="292.98" font-size="6.7" fill="#3a3a3a" textLength="11.67" lengthAdjust="spacingAndGlyphs">Ref.</text>
<text x="353.90" y="309.05" font-size="6.7" fill="#3a3a3a" textLength="21.11" lengthAdjust="spacingAndGlyphs">CEBPA</text>
<text x="438.38" y="309.05" font-size="6.7" fill="#3a3a3a" textLength="13.04" lengthAdjust="spacingAndGlyphs">0.99</text>
<text x="455.14" y="309.05" font-size="6.7" fill="#3a3a3a" textLength="28.31" lengthAdjust="spacingAndGlyphs">0.18, 5.57</text>
<text x="353.90" y="325.12" font-size="6.7" fill="#3a3a3a" textLength="17.68" lengthAdjust="spacingAndGlyphs">NPM1</text>
<text x="438.38" y="325.12" font-size="6.7" fill="#3a3a3a" textLength="13.04" lengthAdjust="spacingAndGlyphs">4.06</text>
<text x="455.14" y="325.12" font-size="6.7" fill="#3a3a3a" textLength="28.31" lengthAdjust="spacingAndGlyphs">1.34, 12.3</text>
<text x="353.90" y="341.19" font-size="6.7" fill="#3a3a3a" textLength="12.38" lengthAdjust="spacingAndGlyphs">MLL</text>
<text x="438.38" y="341.19" font-size="6.7" fill="#3a3a3a" textLength="13.04" lengthAdjust="spacingAndGlyphs">3.51</text>
<text x="455.14" y="341.19" font-size="6.7" fill="#3a3a3a" textLength="28.31" lengthAdjust="spacingAndGlyphs">0.94, 13.0</text>
<text x="353.90" y="357.26" font-size="6.7" fill="#3a3a3a" textLength="14.85" lengthAdjust="spacingAndGlyphs">t(6;9)</text>
<text x="440.25" y="357.26" font-size="6.7" fill="#3a3a3a" textLength="9.31" lengthAdjust="spacingAndGlyphs">NE</text>
<text x="464.88" y="357.26" font-size="6.7" fill="#3a3a3a" textLength="8.84" lengthAdjust="spacingAndGlyphs">NE</text>
<text x="448.60" y="354.26" font-size="3.6" fill="#3a3a3a">3</text>
<text x="473.00" y="354.26" font-size="3.6" fill="#3a3a3a">3</text>
<text x="353.90" y="373.33" font-size="6.7" fill="#3a3a3a" textLength="13.80" lengthAdjust="spacingAndGlyphs">EVI1</text>
<text x="438.38" y="373.33" font-size="6.7" fill="#3a3a3a" textLength="13.04" lengthAdjust="spacingAndGlyphs">6.26</text>
<text x="455.14" y="373.33" font-size="6.7" fill="#3a3a3a" textLength="28.31" lengthAdjust="spacingAndGlyphs">1.96, 20.0</text>
<text x="353.90" y="389.40" font-size="6.7" fill="#3a3a3a" textLength="15.21" lengthAdjust="spacingAndGlyphs">TP53</text>
<text x="438.38" y="389.40" font-size="6.7" fill="#3a3a3a" textLength="13.04" lengthAdjust="spacingAndGlyphs">6.56</text>
<text x="455.14" y="389.40" font-size="6.7" fill="#3a3a3a" textLength="28.31" lengthAdjust="spacingAndGlyphs">2.27, 19.0</text>
<text x="353.90" y="405.47" font-size="6.7" fill="#3a3a3a" textLength="40.67" lengthAdjust="spacingAndGlyphs">MR or RUNX1</text>
<text x="438.38" y="405.47" font-size="6.7" fill="#3a3a3a" textLength="13.04" lengthAdjust="spacingAndGlyphs">3.91</text>
<text x="455.38" y="405.47" font-size="6.7" fill="#3a3a3a" textLength="27.84" lengthAdjust="spacingAndGlyphs">1.35, 11.3</text>
<text x="353.90" y="421.54" font-size="6.7" fill="#3a3a3a" textLength="13.79" lengthAdjust="spacingAndGlyphs">NOS</text>
<text x="438.38" y="421.54" font-size="6.7" fill="#3a3a3a" textLength="13.04" lengthAdjust="spacingAndGlyphs">3.28</text>
<text x="455.14" y="421.54" font-size="6.7" fill="#3a3a3a" textLength="28.31" lengthAdjust="spacingAndGlyphs">1.13, 9.55</text>
<text x="353.90" y="437.61" font-size="6.7" fill="#3a3a3a" textLength="13.79" lengthAdjust="spacingAndGlyphs">NEG</text>
<text x="438.38" y="437.61" font-size="6.7" fill="#3a3a3a" textLength="13.04" lengthAdjust="spacingAndGlyphs">2.93</text>
<text x="455.14" y="437.61" font-size="6.7" fill="#3a3a3a" textLength="28.31" lengthAdjust="spacingAndGlyphs">0.85, 10.2</text>
<text x="347.30" y="449.30" font-size="3.6" fill="#3a3a3a">1</text>
<text x="350.60" y="451.90" font-size="6.7" fill="#3a3a3a" textLength="125.00" lengthAdjust="spacingAndGlyphs">HR = Hazard Ratio, CI = Confidence Interval</text>
<text x="347.30" y="457.30" font-size="3.6" fill="#3a3a3a">2</text>
<text x="350.60" y="459.90" font-size="6.7" fill="#3a3a3a" textLength="126.70" lengthAdjust="spacingAndGlyphs">A cubic spline was used for the age covariate</text>
<text x="347.30" y="465.30" font-size="3.6" fill="#3a3a3a">3</text>
<text x="350.60" y="467.90" font-size="6.7" fill="#3a3a3a" textLength="152.70" lengthAdjust="spacingAndGlyphs">Not Estimable; No t(6;9) patients experienced an event</text>
<rect x="0.5" y="0.5" width="519" height="561" fill="none" stroke="#4a4a4a" stroke-width="1"/>
</svg></body></html>
